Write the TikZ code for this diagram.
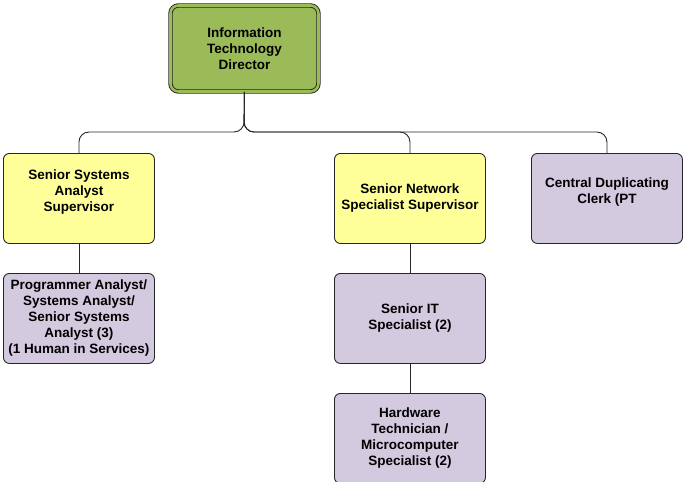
\documentclass[tikz,border=0pt]{standalone}
\usepackage{fontspec}
\setmainfont{Liberation Sans}
\begin{document}
\begin{tikzpicture}[x=1pt,y=-1pt,
  box/.style={draw=black!85,line width=0.9pt,rounded corners=6pt,minimum width=151pt,minimum height=90pt,
    inner sep=1pt,align=center,font=\bfseries\fontsize{13.5}{16}\selectfont,anchor=north west},
  boss/.style={box,fill=bossgreen,double=bossgreen,double distance=2.6pt,minimum width=148pt,minimum height=86pt,rounded corners=8pt},
  lead/.style={box,fill=leadyellow},
  staff/.style={box,fill=staffpurple},
  wire/.style={draw=black!85,line width=0.9pt,rounded corners=10pt}]
\definecolor{bossgreen}{HTML}{9BBB59}
\definecolor{leadyellow}{HTML}{FFFF99}
\definecolor{staffpurple}{HTML}{D3CAE0}
\useasboundingbox (0,0) rectangle (683,482);

\node[boss] (dir) at (170,5) {Information\\Technology\\Director};

\node[lead] (ssas) at (3,153) {Senior Systems\\Analyst\\Supervisor\\~};
\node[lead] (snss) at (334,153) {Senior Network\\Specialist Supervisor};
\node[staff] (cdc) at (531,153) {Central Duplicating\\Clerk (PT\\~};

\node[staff] (pa) at (3,273) {Programmer Analyst/\\Systems Analyst/\\Senior Systems\\Analyst (3)\\(1 Human in Services)};
\node[staff] (sits) at (334,273) {Senior IT\\Specialist (2)};
\node[staff] (hwt) at (334,393) {Hardware\\Technician /\\Microcomputer\\Specialist (2)};

\coordinate (bar) at (244,132);
\draw[wire] (dir.south) -- (bar) -| (ssas.north);
\draw[wire] (dir.south) -- (bar) -| (snss.north);
\draw[wire] (dir.south) -- (bar) -| (cdc.north);
\draw[wire] (ssas.south) -- (pa.north);
\draw[wire] (snss.south) -- (sits.north);
\draw[wire] (sits.south) -- (hwt.north);
\end{tikzpicture}
\end{document}
